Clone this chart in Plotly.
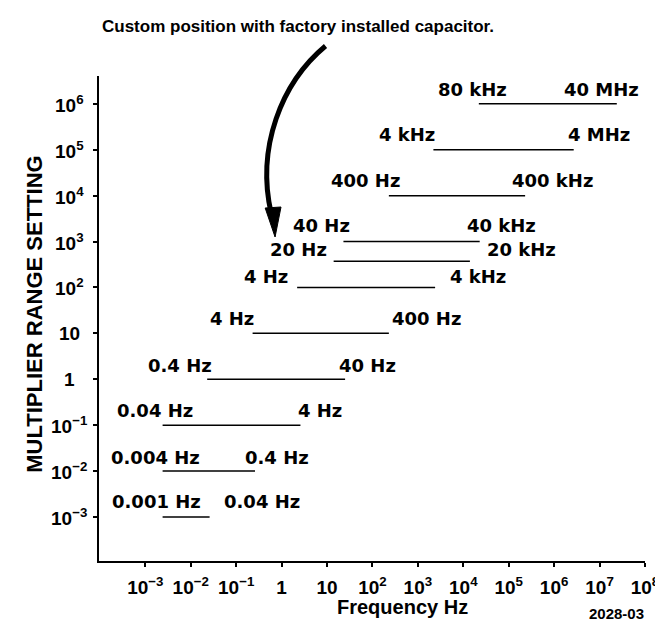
import numpy as np
import plotly.graph_objects as go

# ---------------- data ----------------
multiplier = [1e-3, 1e-2, 1e-1, 1, 10, 100, 370, 1e3, 1e4, 1e5, 1e6]
low_label = ["0.001 Hz", "0.004 Hz", "0.04 Hz", "0.4 Hz", "4 Hz", "4 Hz",
             "20 Hz", "40 Hz", "400 Hz", "4 kHz", "80 kHz"]
high_label = ["0.04 Hz", "0.4 Hz", "4 Hz", "40 Hz", "400 Hz", "4 kHz",
              "20 kHz", "40 kHz", "400 kHz", "4 MHz", "40 MHz"]
line_start_hz = [0.0024, 0.0024, 0.0024, 0.023, 0.23, 2.2, 14, 23, 230, 2200, 22000]
line_end_hz = [0.026, 0.26, 2.6, 25, 230, 2400, 14000, 23000, 230000, 2.7e6, 2.4e7]

x_tick_vals = [1e-3, 1e-2, 1e-1, 1, 10, 1e2, 1e3, 1e4, 1e5, 1e6, 1e7, 1e8]
x_tick_text = ["10<sup>−3</sup>", "10<sup>−2</sup>", "10<sup>−1</sup>", "1", "10",
               "10<sup>2</sup>", "10<sup>3</sup>", "10<sup>4</sup>", "10<sup>5</sup>",
               "10<sup>6</sup>", "10<sup>7</sup>", "10<sup>8</sup>"]
y_tick_vals = [1e-3, 1e-2, 1e-1, 1, 10, 1e2, 1e3, 1e4, 1e5, 1e6]
y_tick_text = ["10<sup>−3</sup>", "10<sup>−2</sup>", "10<sup>−1</sup>", "1", "10",
               "10<sup>2</sup>", "10<sup>3</sup>", "10<sup>4</sup>", "10<sup>5</sup>",
               "10<sup>6</sup>"]

title_text = "Custom position with factory installed capacitor."
x_title = "Frequency Hz"
y_title = "MULTIPLIER RANGE SETTING"
fig_code = "2028-03"

# ---------------- layout / style ----------------
W, H = 663, 622
ML, MR, MT, MB = 91, 20, 68, 69
PW, PH = W - ML - MR, H - MT - MB
FONT = "Liberation Sans, Arial, Helvetica, sans-serif"
LFONT = "DejaVu Sans, Liberation Sans, Arial, sans-serif"

# label placement offsets (pixels) relative to the line ends
low_dx = [-6, -7, -8, -27, -21, -31, -35, -22, -23, -26, -6]
high_dx = [52, 22, 20, 22, 38, 43, 52, 22, 27, 25, -15]
label_dy = [15, 14, 15, 14, 15, 11, 12, 16, 15, 15, 14]


def px(xp):
    return (xp - ML) / PW


def py(yp):
    return (H - MB - yp) / PH


fig = go.Figure()

for i, m in enumerate(multiplier):
    fig.add_trace(go.Scatter(
        x=[line_start_hz[i], line_end_hz[i]], y=[m, m], mode="lines",
        line=dict(color="black", width=1.5), showlegend=False, hoverinfo="skip"))

lab_font = dict(family=LFONT, size=18, color="black", weight="bold")
annotations = []
for i, m in enumerate(multiplier):
    annotations.append(dict(
        x=np.log10(line_start_hz[i]), y=np.log10(m), xref="x", yref="y",
        text=low_label[i], showarrow=False, xanchor="center", yanchor="middle",
        xshift=low_dx[i], yshift=label_dy[i], font=lab_font))
    annotations.append(dict(
        x=np.log10(line_end_hz[i]), y=np.log10(m), xref="x", yref="y",
        text=high_label[i], showarrow=False, xanchor="center", yanchor="middle",
        xshift=high_dx[i], yshift=label_dy[i], font=lab_font))

for v, t in zip(y_tick_vals, y_tick_text):
    annotations.append(dict(
        x=0, y=np.log10(v), xref="paper", yref="y", text=t, showarrow=False,
        xanchor="center", yanchor="middle", xshift=61 - ML,
        font=dict(family=FONT, size=19, color="black", weight="bold")))

annotations.append(dict(
    x=px(292), y=py(19), xref="paper", yref="paper", text=title_text,
    showarrow=False, xanchor="center", yanchor="middle",
    font=dict(family=FONT, size=17, color="black", weight="bold")))
annotations.append(dict(
    x=px(25), y=py(306), xref="paper", yref="paper", text=y_title,
    showarrow=False, xanchor="center", yanchor="middle", textangle=-90,
    font=dict(family=FONT, size=22, color="black", weight="bold")))
annotations.append(dict(
    x=px(398), y=py(599), xref="paper", yref="paper", text=x_title,
    showarrow=False, xanchor="center", yanchor="middle",
    font=dict(family=FONT, size=20, color="black", weight="bold")))
annotations.append(dict(
    x=px(614), y=py(605), xref="paper", yref="paper", text=fig_code,
    showarrow=False, xanchor="center", yanchor="middle",
    font=dict(family=FONT, size=15, color="black", weight="bold")))

# curved arrow (decoration)
p0, c1, c2, p3 = (320, 38), (275, 75), (250, 140), (265, 205)
arrow_path = "M {} {} C {} {}, {} {}, {} {}".format(
    px(p0[0]), py(p0[1]), px(c1[0]), py(c1[1]), px(c2[0]), py(c2[1]), px(p3[0]), py(p3[1]))
head = "M {} {} L {} {} L {} {} Z".format(
    px(259), py(200), px(275), py(199), px(269), py(229))

fig.update_layout(
    width=W, height=H, margin=dict(l=ML, r=MR, t=MT, b=MB),
    paper_bgcolor="white", plot_bgcolor="white",
    font=dict(family=FONT, color="black"),
    annotations=annotations,
    shapes=[
        dict(type="path", path=arrow_path, xref="paper", yref="paper",
             line=dict(color="black", width=5)),
        dict(type="path", path=head, xref="paper", yref="paper",
             line=dict(color="black", width=1), fillcolor="black"),
    ],
    xaxis=dict(type="log", range=[-4.02, 8.001], showgrid=False, zeroline=False,
               showline=True, linecolor="black", linewidth=1.5,
               ticks="outside", ticklen=4, tickcolor="black", tickwidth=1.5,
               tickvals=x_tick_vals, ticktext=x_tick_text, ticklabelstandoff=4,
               ticklabeloverflow="allow",
               tickfont=dict(family=FONT, size=19, color="black", weight="bold")),
    yaxis=dict(type="log", range=[-3.96, 6.607], showgrid=False, zeroline=False,
               showline=True, linecolor="black", linewidth=1.5,
               ticks="outside", ticklen=4, tickcolor="black", tickwidth=1.5,
               tickvals=y_tick_vals, showticklabels=False),
)

fig.write_html("out.html")
